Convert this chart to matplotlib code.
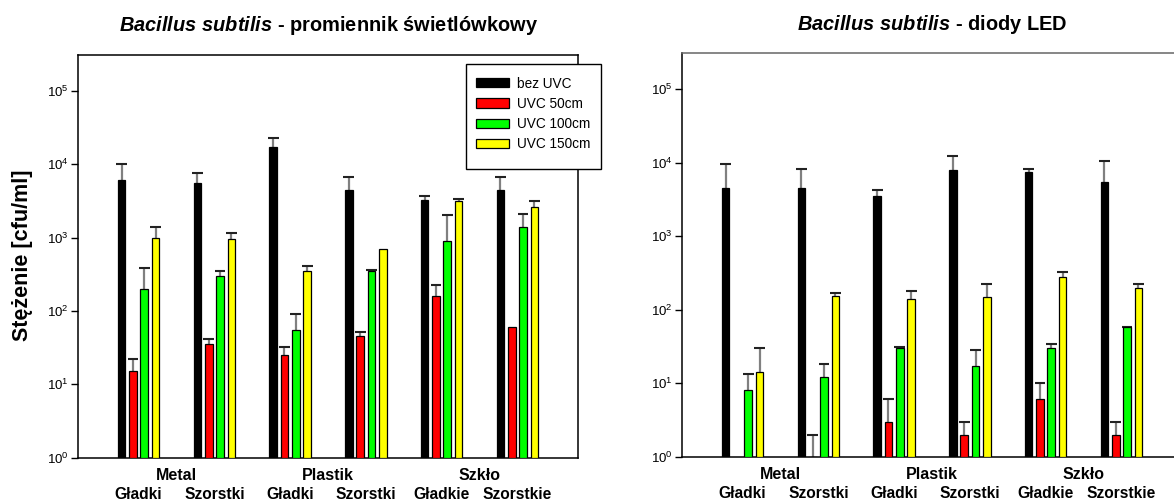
import numpy as np
import matplotlib
matplotlib.use("Agg")
import matplotlib.pyplot as plt
from matplotlib.ticker import NullLocator, NullFormatter
from matplotlib.patches import Patch, Rectangle

plt.rcParams['font.family'] = ['Liberation Sans', 'DejaVu Sans']
plt.rcParams['mathtext.fontset'] = 'custom'
plt.rcParams['mathtext.rm'] = 'Liberation Sans'
plt.rcParams['mathtext.it'] = 'Liberation Sans:italic:bold'
plt.rcParams['mathtext.bf'] = 'Liberation Sans:bold'

# Surface groups and sub-labels
materials = ["Metal", "Plastik", "Szkło"]
surfaces = ["Gładki", "Szorstki", "Gładki", "Szorstki", "Gładkie", "Szorstkie"]
series = ["bez UVC", "UVC 50cm", "UVC 100cm", "UVC 150cm"]
colors = ["#000000", "#ff0000", "#00ff00", "#ffff00"]

# Fluorescent lamp: mean concentrations [cfu/ml] and upper error-bar ends
fl_bez = [6000, 5500, 17000, 4500, 3200, 4500]
fl_50 = [15, 35, 25, 45, 160, 60]
fl_100 = [200, 300, 55, 350, 900, 1400]
fl_150 = [1000, 950, 350, 700, 3100, 2600]
fl_bez_hi = [10200, 7600, 22700, 6600, 3650, 6600]
fl_50_hi = [22, 42, 32, 52, 227, 60]
fl_100_hi = [380, 345, 90, 360, 2030, 2100]
fl_150_hi = [1400, 1160, 413, 700, 3380, 3140]

# LED diodes: mean concentrations [cfu/ml] and upper error-bar ends
led_bez = [4500, 4500, 3500, 8000, 7500, 5500]
led_50 = [np.nan, 1, 3, 2, 6, 2]
led_100 = [8, 12, 30, 17, 30, 58]
led_150 = [14, 155, 140, 150, 280, 195]
led_bez_hi = [9500, 8100, 4200, 12300, 8300, 10400]
led_50_hi = [np.nan, 2, 6, 3, 10, 3]
led_100_hi = [13.2, 18, 31, 28, 34, 59]
led_150_hi = [30, 170, 180, 221, 322, 221]

W, H = 1174, 504
fig = plt.figure(figsize=(W / 100, H / 100), dpi=100)


def px_axes(x0, y0, x1, y1):
    return fig.add_axes([x0 / W, 1 - y1 / H, (x1 - x0) / W, (y1 - y0) / H])


ax1 = px_axes(78, 55, 578, 457.7)
ax2 = px_axes(682, 53.3, 1182, 456.7)

bar_w = 0.1
step = 0.149
offsets = (np.arange(4) - 1.5) * step
x = np.arange(1, 7)


def draw_panel(ax, vals, his, title, top_color):
    for k in range(4):
        v = np.array(vals[k], dtype=float)
        hi = np.array(his[k], dtype=float)
        xs = x + offsets[k]
        ax.bar(xs, v - 1, bottom=1, width=bar_w, color=colors[k],
               edgecolor="black", linewidth=0.9, zorder=3)
        up = hi - v
        mask = np.isfinite(v) & (up > 0.01 * v)
        if mask.any():
            ax.vlines(xs[mask], v[mask], hi[mask], color="#808080",
                      linewidth=1.6, zorder=2)
            ax.hlines(hi[mask], xs[mask] - 0.072, xs[mask] + 0.072,
                      color="#222222", linewidth=1.5, zorder=2)
        flat = np.isfinite(v) & ~mask & (up > 0)
        if flat.any():
            ax.hlines(hi[flat], xs[flat] - 0.072, xs[flat] + 0.072,
                      color="#222222", linewidth=1.5, zorder=4)
    ax.set_yscale("log")
    ax.set_ylim(1, 10 ** 5.487)
    ax.set_xlim(0.2, 6.8)
    ax.yaxis.set_minor_locator(NullLocator())
    ax.yaxis.set_minor_formatter(NullFormatter())
    ax.set_yticks([10 ** i for i in range(6)])
    ax.set_yticklabels([r"$10^{%d}$" % i for i in range(6)])
    ax.tick_params(axis="y", direction="out", length=5, width=1,
                   labelsize=9.5, pad=2)
    ax.set_xticks([])
    for s in ax.spines.values():
        s.set_linewidth(1.1)
        s.set_color("black")
    ax.spines["top"].set_color(top_color)
    ax.set_title(title, fontsize=14.4, fontweight="bold", pad=17)
    tr = ax.get_xaxis_transform()
    for i, m in enumerate(materials):
        ax.text(2 * i + 1.5, -0.043, m, transform=tr, ha="center",
                va="center", fontsize=11.5, fontweight="bold")
    for i, s in enumerate(surfaces):
        ax.text(i + 1, -0.092, s, transform=tr, ha="center", va="center",
                fontsize=11.2, fontweight="bold")


draw_panel(ax1, [fl_bez, fl_50, fl_100, fl_150],
           [fl_bez_hi, fl_50_hi, fl_100_hi, fl_150_hi],
           r"$\mathit{Bacillus\ subtilis}$ - promiennik świetlówkowy",
           "black")
draw_panel(ax2, [led_bez, led_50, led_100, led_150],
           [led_bez_hi, led_50_hi, led_100_hi, led_150_hi],
           r"$\mathit{Bacillus\ subtilis}$ - diody LED",
           "#666666")
ax2.spines["right"].set_visible(False)


# Legend frame sits over the right spine of the left panel
def ax1_xy(px, py):
    return ((px - 78) / 500, (457.7 - py) / 402.7)


fx0, fy1 = ax1_xy(466, 64)
fx1, fy0 = ax1_xy(601, 169)
frame = Rectangle((fx0, fy0), fx1 - fx0, fy1 - fy0, transform=ax1.transAxes,
                  facecolor="white", edgecolor="black", linewidth=1.0,
                  clip_on=False, zorder=9)
ax1.add_patch(frame)

handles = [Patch(facecolor=c, edgecolor="black", linewidth=0.9) for c in colors]
lx, ly = ax1_xy(476, 76.5)
leg = ax1.legend(handles, series, loc="upper left", bbox_to_anchor=(lx, ly),
                 fontsize=9.8, frameon=False, handlelength=2.45,
                 handleheight=0.65, labelspacing=0.46, borderpad=0,
                 handletextpad=0.55, borderaxespad=0)
leg.set_zorder(10)

fig.text(23 / W, 1 - 255 / H, "Stężenie [cfu/ml]", rotation=90,
         ha="center", va="center", fontsize=15.5, fontweight="bold")

fig.savefig("out.png", dpi=100)
